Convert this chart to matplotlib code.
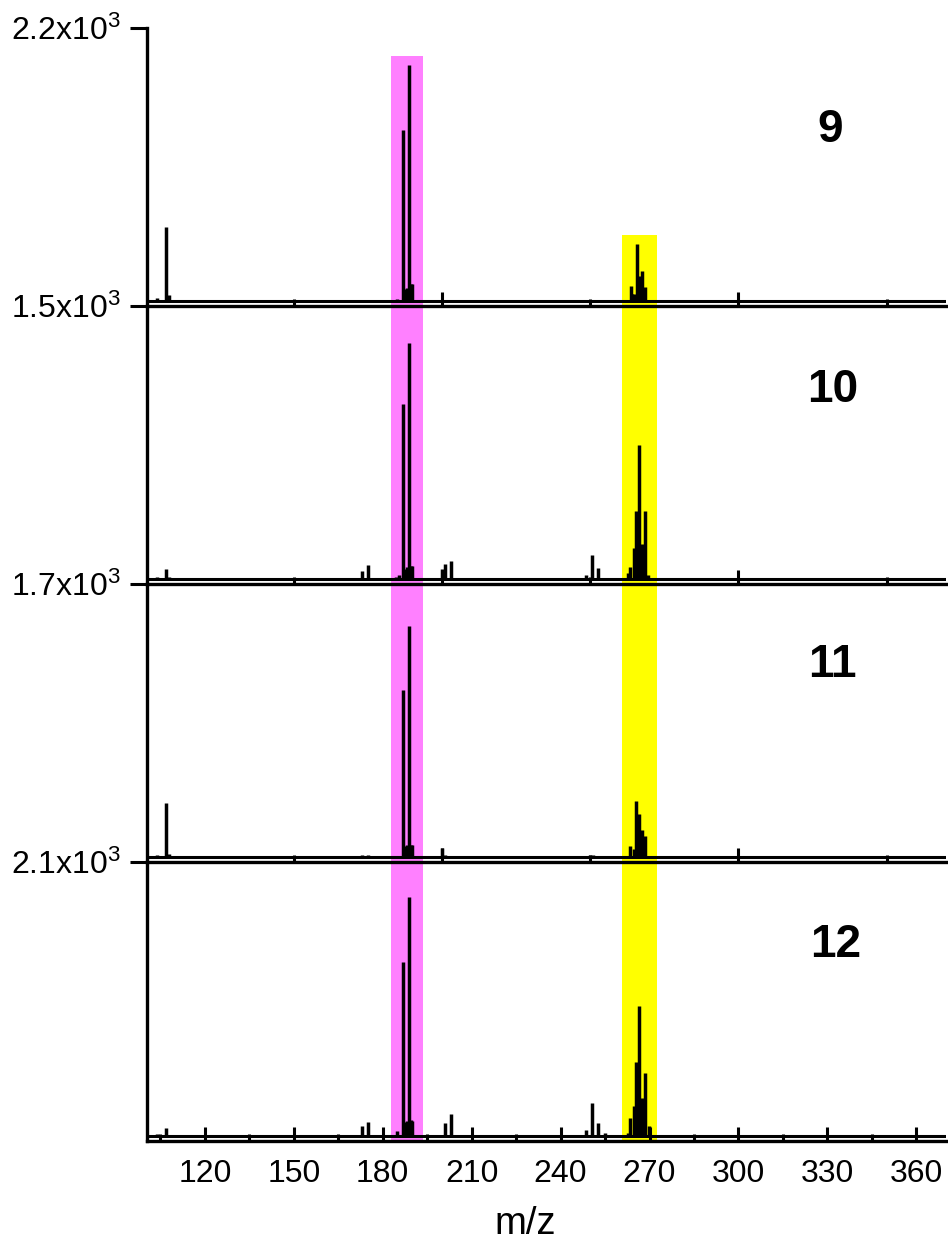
import numpy as np
import matplotlib.pyplot as plt
from matplotlib.ticker import FixedLocator, NullFormatter

plt.rcParams['font.family'] = 'Liberation Sans'
plt.rcParams['mathtext.fontset'] = 'custom'
plt.rcParams['mathtext.rm'] = 'Liberation Sans'

# centroided stick spectra: m/z and intensity (counts) per sample
mz_9 = [104, 107, 108, 122, 138, 184.7, 186.7, 187.5, 188.2, 188.8, 189.4, 190.0,
        196, 203, 205, 243, 253, 263.6, 264.2, 264.9, 265.7, 266.6, 267.5, 268.6,
        273, 280, 291, 320, 346]
int_9 = [28, 597, 52, 8, 8, 20, 1382, 100, 108, 1902, 140, 140,
         10, 12, 8, 8, 8, 127, 60, 60, 461, 207, 247, 116,
         10, 8, 10, 6, 8]

mz_10 = [104, 107, 108, 173, 175, 184.6, 185.5, 186.7, 187.5, 188.2, 188.8, 189.4, 190.0,
         200, 201, 203, 248.6, 250.6, 252.7, 262.7, 263.5, 264.7, 265.6, 266.6, 267.5,
         268.6, 269.4, 291, 292.5]
int_10 = [11, 55, 15, 44, 77, 16, 25, 963, 60, 70, 1296, 75, 75,
          55, 87, 104, 27, 137, 62, 36, 67, 171, 377, 737, 197,
          373, 27, 8, 10]

mz_11 = [104, 107, 108, 115, 173, 175, 184.6, 186.7, 187.5, 188.2, 188.8, 189.4, 190.0,
         200, 201, 203, 250, 251, 252.8, 263.5, 264.7, 265.6, 266.6, 267.5, 268.6,
         269.4, 291]
int_11 = [15, 341, 20, 8, 15, 15, 8, 1038, 70, 75, 1440, 80, 75,
          62, 15, 12, 15, 15, 8, 74, 54, 354, 272, 173, 136,
          10, 6]

mz_12 = [104, 107, 173, 175, 184.8, 186.7, 187.5, 188.2, 188.8, 189.4, 190.0,
         201, 203, 248.6, 250.6, 252.7, 254.9, 262.7, 263.5, 264.7, 265.6, 266.6,
         267.5, 268.6, 269.7, 291, 293]
int_12 = [20, 65, 82, 108, 44, 1337, 110, 120, 1833, 125, 120,
          103, 171, 50, 255, 100, 27, 27, 139, 235, 570, 997,
          293, 489, 82, 8, 10]

samples = ['9', '10', '11', '12']
spectra = [(mz_9, int_9), (mz_10, int_10), (mz_11, int_11), (mz_12, int_12)]
y_top = [2200, 1500, 1700, 2100]
y_top_labels = [r'$\mathregular{2.2x10^3}$', r'$\mathregular{1.5x10^3}$',
                r'$\mathregular{1.7x10^3}$', r'$\mathregular{2.1x10^3}$']

pink_band = (182.7, 193.5)
yellow_band = (260.6, 272.4)

W, H = 948, 1242
fig = plt.figure(figsize=(W / 100, H / 100), dpi=100)

edges = [28, 306, 584, 862, 1141]
left_px, right_px = 147, 946
label_y = [0.633, 0.698, 0.709, 0.703]
label_x = [0.855, 0.858, 0.858, 0.862]
offset = 0.0165  # keeps the baseline just above the axis line

for i, (name, (mz, inten), top) in enumerate(zip(samples, spectra, y_top)):
    t, b = edges[i], edges[i + 1]
    ax = fig.add_axes([left_px / W, 1 - b / H, (right_px - left_px) / W, (b - t) / H])
    ax.set_zorder(10 - i)
    ax.patch.set_visible(False)

    if i == 0:
        ax.axvspan(*pink_band, ymax=0.899, color='#ff80ff', lw=0, zorder=0)
        ax.axvspan(*yellow_band, ymax=0.255, color='#ffff00', lw=0, zorder=0)
    else:
        ax.axvspan(*pink_band, color='#ff80ff', lw=0, zorder=0)
        ax.axvspan(*yellow_band, color='#ffff00', lw=0, zorder=0)

    ax.axhline(0, color='black', lw=2.2, zorder=2)
    ax.vlines(mz, 0, inten, color='black', lw=2.5, zorder=2)

    ax.set_xlim(100.5, 370)
    ax.set_ylim(-offset * top, top)

    for side in ('top', 'right'):
        ax.spines[side].set_visible(False)
    for side in ('left', 'bottom'):
        ax.spines[side].set_linewidth(2.4)

    ax.set_yticks([top])
    ax.set_yticklabels([y_top_labels[i]])
    ax.tick_params(axis='y', direction='out', length=12, width=2.2, pad=7, labelsize=23)

    if i < 3:
        ax.xaxis.set_major_locator(FixedLocator([100, 200, 300]))
        ax.xaxis.set_minor_locator(FixedLocator([150, 250, 350]))
        ax.xaxis.set_major_formatter(NullFormatter())
    else:
        ax.xaxis.set_major_locator(FixedLocator(np.arange(120, 361, 30)))
        ax.xaxis.set_minor_locator(FixedLocator(np.arange(105, 370, 15)))
        ax.tick_params(axis='x', which='major', labelsize=23, pad=13)
        ax.set_xlabel('m/z', fontsize=27.5)
        ax.xaxis.set_label_coords(0.474, -0.232)
    ax.tick_params(axis='x', which='major', direction='in', length=10, width=2.2)
    ax.tick_params(axis='x', which='minor', direction='in', length=5, width=2.2)

    ax.text(label_x[i], label_y[i], name, transform=ax.transAxes, ha='center',
            va='center', fontsize=33, fontweight='bold')

fig.savefig('out.png', dpi=100)
